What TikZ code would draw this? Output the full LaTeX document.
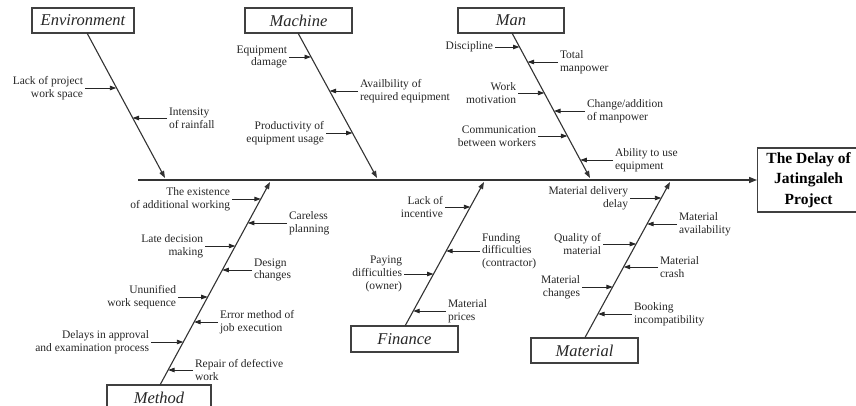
\documentclass[tikz,border=0pt]{standalone}
\usepackage{fontspec}
\setmainfont{Liberation Serif}
\usetikzlibrary{arrows.meta}
\tikzset{
  cat/.style={draw=black!75, line width=1.1pt, minimum height=25pt, inner sep=0pt,
    font=\fontsize{16.5}{19}\selectfont\itshape, text=black!85},
  bone/.style={draw=black!80, line width=1.1pt, -{Triangle[length=7pt,width=5pt]}},
  cause/.style={draw=black!85, line width=0.9pt, -{Triangle[length=6.5pt,width=4.5pt]}},
  lbl/.style={inner sep=2pt, outer sep=0pt, font=\fontsize{11.5}{12.7}\selectfont, text=black!85},
  lft/.style={lbl, anchor=east, align=right},
  rgt/.style={lbl, anchor=west, align=left},
}
\begin{document}
\begin{tikzpicture}[x=1pt,y=-1pt]
\useasboundingbox (0,0) rectangle (856,406);
% head
\node[draw=black!75, line width=1.3pt, minimum width=102pt, minimum height=64pt, anchor=west,
  align=center, inner sep=0pt, font=\fontsize{15.5}{20.5}\selectfont\bfseries] (head) at (757,180)
  {The Delay of\\Jatingaleh\\Project};
% spine
\coordinate (tail) at (138,180);
\draw[draw=black!80, line width=1.4pt, -{Triangle[length=8pt,width=6pt]}] (tail) -- (head.west);
% category boxes
\node[cat, minimum width=102pt] (env) at (83,20.5) {Environment};
\node[cat, minimum width=107pt] (mach) at (298.5,20.5) {Machine};
\node[cat, minimum width=106pt] (man) at (511,20.5) {Man};
\node[cat, minimum width=104pt] (meth) at (159,397.5) {Method};
\node[cat, minimum width=107pt, minimum height=26pt] (fin) at (404.5,339) {Finance};
\node[cat, minimum width=107pt] (mat) at (584.5,350.5) {Material};
% bone coordinates
\coordinate (envS) at (87,33); \coordinate (envE) at (165,178);
\coordinate (machS) at (298,33); \coordinate (machE) at (377,178);
\coordinate (manS) at (512,33); \coordinate (manE) at (590,178);
\coordinate (methS) at (160,385); \coordinate (methE) at (270,182);
\coordinate (finS) at (405,326); \coordinate (finE) at (484,182);
\coordinate (matS) at (585,337.5); \coordinate (matE) at (670,182);
\draw[bone] (envS) -- (envE);
\draw[bone] (machS) -- (machE);
\draw[bone] (manS) -- (manE);
\draw[bone] (methS) -- (methE);
\draw[bone] (finS) -- (finE);
\draw[bone] (matS) -- (matE);
% Environment causes
\node[lft] (e1) at (85,88) {Lack of project\\work space};
\coordinate (e1b) at (116.3,88); \draw[cause] (e1) -- (e1b);
\node[rgt] (e2) at (167,118) {Intensity\\of rainfall};
\coordinate (e2b) at (132.5,118); \draw[cause] (e2) -- (e2b);
% Machine causes
\node[lft] (m1) at (289,57) {Equipment\\damage};
\coordinate (m1b) at (311,57); \draw[cause] (m1) -- (m1b);
\node[rgt] (m2) at (358,91) {Availbility of\\required equipment};
\coordinate (m2b) at (329.6,91); \draw[cause] (m2) -- (m2b);
\node[lft] (m3) at (326,133) {Productivity of\\equipment usage};
\coordinate (m3b) at (352.5,133); \draw[cause] (m3) -- (m3b);
% Man causes
\node[lft] (h1) at (495,47) {Discipline};
\coordinate (h1b) at (519.5,47); \draw[cause] (h1) -- (h1b);
\node[rgt] (h2) at (558,62) {Total\\manpower};
\coordinate (h2b) at (527.6,62); \draw[cause] (h2) -- (h2b);
\node[lft] (h3) at (518,93) {Work\\motivation};
\coordinate (h3b) at (544.3,93); \draw[cause] (h3) -- (h3b);
\node[rgt] (h4) at (585,111) {Change/addition\\of manpower};
\coordinate (h4b) at (554,111); \draw[cause] (h4) -- (h4b);
\node[lft] (h5) at (538,136) {Communication\\between workers};
\coordinate (h5b) at (567.4,136); \draw[cause] (h5) -- (h5b);
\node[rgt] (h6) at (613,160) {Ability to use\\equipment};
\coordinate (h6b) at (580.3,160); \draw[cause] (h6) -- (h6b);
% Method causes
\node[lft] (d1) at (232,199) {The existence\\of additional working};
\coordinate (d1b) at (260.8,199); \draw[cause] (d1) -- (d1b);
\node[rgt] (d2) at (287,223) {Careless\\planning};
\coordinate (d2b) at (247.8,223); \draw[cause] (d2) -- (d2b);
\node[lft] (d3) at (205,246) {Late decision\\making};
\coordinate (d3b) at (235.3,246); \draw[cause] (d3) -- (d3b);
\node[rgt] (d4) at (252,270) {Design\\changes};
\coordinate (d4b) at (222.3,270); \draw[cause] (d4) -- (d4b);
\node[lft] (d5) at (178,297) {Ununified\\work sequence};
\coordinate (d5b) at (207.7,297); \draw[cause] (d5) -- (d5b);
\node[rgt] (d6) at (218,322) {Error method of\\job execution};
\coordinate (d6b) at (194.1,322); \draw[cause] (d6) -- (d6b);
\node[lft] (d7) at (151,342) {Delays in approval\\and examination process};
\coordinate (d7b) at (183.3,342); \draw[cause] (d7) -- (d7b);
\node[rgt] (d8) at (193,370) {Repair of defective\\work};
\coordinate (d8b) at (168.1,370); \draw[cause] (d8) -- (d8b);
% Finance causes
\node[lft] (f1) at (445,207) {Lack of\\incentive};
\coordinate (f1b) at (470.3,207); \draw[cause] (f1) -- (f1b);
\node[rgt] (f2) at (480,251) {Funding\\difficulties\\(contractor)};
\coordinate (f2b) at (446.1,251); \draw[cause] (f2) -- (f2b);
\node[lft] (f3) at (404,274) {Paying\\difficulties\\(owner)};
\coordinate (f3b) at (433.5,274); \draw[cause] (f3) -- (f3b);
\node[rgt] (f4) at (446,311) {Material\\prices};
\coordinate (f4b) at (413.2,311); \draw[cause] (f4) -- (f4b);
% Material causes
\node[lft] (t1) at (630,198) {Material delivery\\delay};
\coordinate (t1b) at (661.3,198); \draw[cause] (t1) -- (t1b);
\node[rgt] (t2) at (677,224) {Material\\availability};
\coordinate (t2b) at (647.1,224); \draw[cause] (t2) -- (t2b);
\node[lft] (t3) at (603,244) {Quality of\\material};
\coordinate (t3b) at (636.2,244); \draw[cause] (t3) -- (t3b);
\node[rgt] (t4) at (658,267) {Material\\crash};
\coordinate (t4b) at (623.7,267); \draw[cause] (t4) -- (t4b);
\node[lft] (t5) at (582,287) {Material\\changes};
\coordinate (t5b) at (612.8,287); \draw[cause] (t5) -- (t5b);
\node[rgt] (t6) at (632,314) {Booking\\incompatibility};
\coordinate (t6b) at (598.1,314); \draw[cause] (t6) -- (t6b);
\end{tikzpicture}
\end{document}
